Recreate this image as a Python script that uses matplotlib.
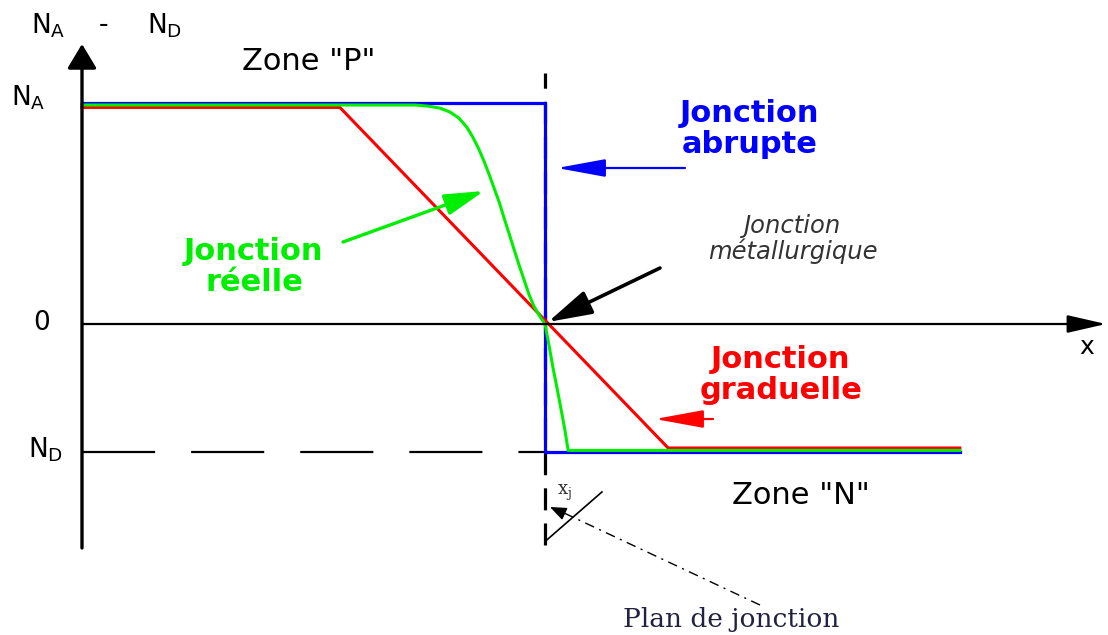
import matplotlib
matplotlib.use("Agg")
import matplotlib.pyplot as plt

# ---------------- data (normalised units: x_j = 1, N_A = 1) ----------------
x_j = 1.0
N_A = 1.0
N_D = -0.579

abrupt_x = [0.0, 1.0, 1.0, 1.896]
abrupt_y = [1.0, 1.0, -0.581, -0.581]

graded_x = [0.0, 0.557, 1.266, 1.896]
graded_y = [0.980, 0.980, -0.561, -0.561]

real_x = [0.0, 0.719, 0.747, 0.773, 0.795, 0.814, 0.831, 0.844, 0.857,
          0.868, 0.879, 0.890, 0.901, 0.911, 0.922, 0.933, 0.944, 0.955,
          0.965, 0.976, 0.987, 1.0, 1.009, 1.017, 1.026, 1.035, 1.043, 1.050,
          1.896]
real_y = [0.991, 0.991, 0.986, 0.977, 0.959, 0.932, 0.891, 0.846, 0.792,
          0.738, 0.679, 0.615, 0.552, 0.484, 0.412, 0.339, 0.267, 0.199,
          0.136, 0.081, 0.041, 0.0, -0.100, -0.195, -0.290, -0.389, -0.480,
          -0.572, -0.572]

plane_x = [1.004, 1.123]
plane_y = [-0.977, -0.760]

# ---------------- figure ----------------
fig = plt.figure(figsize=(11.08, 6.35), dpi=100)
ax = fig.add_axes([0, 0, 1, 1])
ax.set_xlim(-0.1771, 2.2160)
ax.set_ylim(-1.4072, 1.4661)
ax.axis("off")


def P(px, py):
    return ((px - 82) / 463.0, (324 - py) / 221.0)


def arrow(tip, tail, color, lw, hl, hw, z=5):
    ax.annotate("", xy=tip, xytext=tail,
                arrowprops=dict(arrowstyle=f"-|>,head_length={hl},head_width={hw}",
                                color=color, lw=lw, shrinkA=0, shrinkB=0,
                                mutation_scale=1),
                zorder=z)


# axes with arrows
arrow(P(82, 44), P(82, 548), "black", 2.4, 15, 9)
arrow(P(1106, 324), P(82, 324), "black", 1.6, 24, 5.5)

# N_D dashed level
ax.plot([0, 1.006], [N_D, N_D], color="black", lw=1.6,
        dashes=(32.9, 16.2), dash_capstyle="butt", zorder=2)
# x_j vertical dashed line
ax.plot([x_j, x_j], [-1.000, 1.136], color="black", lw=2.3,
        dashes=(6.9, 4.1), dash_capstyle="butt", zorder=2)

# profiles
ax.plot(abrupt_x, abrupt_y, color="#0000ff", lw=2.3, zorder=3)
ax.plot(graded_x, graded_y, color="#ff0000", lw=2.2, zorder=4)
ax.plot(real_x, real_y, color="#00ee00", lw=2.2, zorder=4)

# plan de jonction
ax.plot(plane_x, plane_y, color="black", lw=1.2, zorder=3)
ax.plot([P(760, 605)[0], P(562, 512)[0]], [P(760, 605)[1], P(562, 512)[1]],
        color="black", lw=1.0, dashes=(7, 4, 1.5, 4), zorder=3)
arrow(P(550, 507), P(563, 513), "black", 1.0, 10, 4)

# annotation arrows
arrow(P(557, 168), P(685, 168), "#0000ff", 1.6, 30, 5.5)
arrow(P(484, 191), P(343, 242), "#00ee00", 2.4, 24, 6.5)
arrow(P(548, 322), P(660, 268), "black", 2.6, 27, 7.5)
arrow(P(655, 419), P(713, 419), "#ff0000", 1.6, 30, 5.5)

# ---------------- texts ----------------
mfs = 19
ax.text(*P(31, 33), r"$\mathregular{N_A}$", fontsize=mfs, ha="left", va="baseline")
ax.text(*P(104, 25), "-", fontsize=mfs, ha="center", va="center")
ax.text(*P(147, 33), r"$\mathregular{N_D}$", fontsize=mfs, ha="left", va="baseline")

ax.text(*P(11, 105), r"$\mathregular{N_A}$", fontsize=mfs, ha="left", va="baseline")
ax.text(*P(42, 323), "0", fontsize=mfs, ha="center", va="center")
ax.text(*P(28, 457), r"$\mathregular{N_D}$", fontsize=mfs, ha="left", va="baseline")
ax.text(*P(1087, 347), "x", fontsize=18, ha="center", va="center")

ax.text(*P(309, 61), 'Zone "P"', fontsize=22, ha="center", va="center")
ax.text(*P(801, 495), 'Zone "N"', fontsize=22, ha="center", va="center")

bfs = 22
ax.text(*P(750, 129), "Jonction\nabrupte", fontsize=bfs, fontweight="bold",
        color="#0000ff", ha="center", va="center", linespacing=1.1)
ax.text(*P(254, 267), "Jonction\nréelle", fontsize=bfs, fontweight="bold",
        color="#00ee00", ha="center", va="center", linespacing=1.1)
ax.text(*P(781, 375), "Jonction\ngraduelle", fontsize=bfs, fontweight="bold",
        color="#ff0000", ha="center", va="center", linespacing=1.1)
ax.text(*P(793, 239), "Jonction\nmétallurgique", fontsize=17.5, style="italic",
        color="#333333", ha="center", va="center", linespacing=1.0)

ax.text(*P(557, 495), r"$\mathregular{x_j}$", fontsize=13, family="DejaVu Serif",
        color="#333333", ha="left", va="baseline")
ax.text(*P(731, 619), "Plan de jonction", fontsize=19, family="DejaVu Serif",
        color="#222240", ha="center", va="center")

fig.savefig("out.png", dpi=100)
